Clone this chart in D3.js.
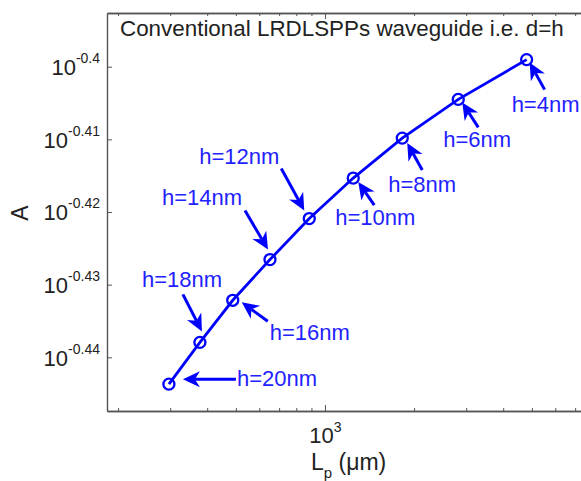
<!doctype html>
<html>
<head>
<meta charset="utf-8">
<title>LRDLSPPs</title>
<script src="https://cdn.jsdelivr.net/npm/d3@7"></script>
<style>
  body { margin: 0; background: #fff; }
  svg { font-family: Arial, "Liberation Sans", Helvetica, sans-serif; }
</style>
</head>
<body>
<div id="chart"></div>
<script>
// data
var hNm = [20, 18, 16, 14, 12, 10, 8, 6, 4];
var Lp  = [297, 378, 488, 652, 885, 1246, 1824, 2820, 4800];      // um
var A   = [0.3600, 0.3648, 0.3697, 0.3745, 0.3794, 0.3843, 0.3892, 0.3940, 0.3990];

var xMinor = [200, 300, 400, 500, 600, 700, 800, 900, 2000, 3000, 4000, 5000, 6000, 7000];
var xMajor = [1000];
var yExp   = [-0.44, -0.43, -0.42, -0.41, -0.4];
var yExpLabels = ["-0.44", "-0.43", "-0.42", "-0.41", "-0.4"];

// callout placement, offsets from the point in px: arrow tail, arrow tip, label
var callouts = [
  { tail: [67, -5],   tip: [14, -5],  txt: [68, 2] },
  { tail: [-17, -48], tip: [2, -11],  txt: [-58, -55] },
  { tail: [35, 21],   tip: [9, 2],    txt: [37, 40] },
  { tail: [-25, -49], tip: [-2, -10], txt: [-108, -55] },
  { tail: [-28, -50], tip: [-5, -8],  txt: [-110, -55] },
  { tail: [21, 27],   tip: [5, 4],    txt: [-18, 47] },
  { tail: [20, 32],   tip: [5, 5],    txt: [-14, 54] },
  { tail: [20, 28],   tip: [4, 3],    txt: [-15, 48] },
  { tail: [18, 30],   tip: [3, 3],    txt: [-15, 52] }
];

var W = 581, H = 481;
var pLeft = 107, pTop = 13, pRight = 590, pBottom = 411;
var blue = "#0000ff", axisCol = "#555";

var svg = d3.select("#chart").append("svg").attr("width", W).attr("height", H);

var x = d3.scaleLog().domain([183.5, 7858]).range([pLeft, pRight]);
var y = d3.scaleLog().domain([Math.pow(10, -0.44739), Math.pow(10, -0.39261)]).range([pBottom, pTop]);

// axes (ticks pointing inward, matlab style)
var axStyle = function(g) {
  g.attr("color", axisCol);
  g.select(".domain").attr("stroke-width", 1.4);
  g.selectAll(".tick line").attr("stroke-width", 1);
};

svg.append("g").attr("transform", "translate(0," + pBottom + ")")
  .call(d3.axisBottom(x).tickValues(xMinor).tickSize(-3).tickSizeOuter(0).tickFormat(""))
  .call(axStyle);
var gxb = svg.append("g").attr("transform", "translate(0," + pBottom + ")")
  .call(d3.axisBottom(x).tickValues(xMajor).tickSize(-6).tickSizeOuter(0).tickFormat(""))
  .call(axStyle);
svg.append("g").attr("transform", "translate(0," + pTop + ")")
  .call(d3.axisTop(x).tickValues(xMinor).tickSize(-3).tickSizeOuter(0).tickFormat(""))
  .call(axStyle);
svg.append("g").attr("transform", "translate(0," + pTop + ")")
  .call(d3.axisTop(x).tickValues(xMajor).tickSize(-6).tickSizeOuter(0).tickFormat(""))
  .call(axStyle);

var gy = svg.append("g").attr("transform", "translate(" + pLeft + ",0)")
  .call(d3.axisLeft(y).tickValues(yExp.map(function(e) { return Math.pow(10, e); }))
    .tickSize(-5).tickSizeOuter(0).tickFormat(""))
  .call(axStyle);

// tick labels with superscripts
gy.selectAll(".tick text").each(function(d, i) {
  var t = d3.select(this).attr("x", -7).attr("dy", "0.36em")
    .attr("font-size", 22).attr("fill", "#222").text(null);
  t.append("tspan").text("10");
  t.append("tspan").attr("dy", -12).attr("font-size", 14).text(yExpLabels[i]);
});
gxb.selectAll(".tick text").each(function() {
  var t = d3.select(this).attr("y", 32).attr("dy", 0)
    .attr("font-size", 22).attr("fill", "#222").text(null);
  t.append("tspan").text("10");
  t.append("tspan").attr("dy", -11).attr("font-size", 14).text("3");
});

// axis titles
var xl = svg.append("text").attr("x", 311).attr("y", 470)
  .attr("font-size", 23).attr("fill", "#222");
xl.append("tspan").text("L");
xl.append("tspan").attr("dy", 8).attr("font-size", 15).text("p");
xl.append("tspan").attr("dy", -8).text(" (\u03bcm)");

svg.append("text").attr("transform", "translate(28,213) rotate(-90)")
  .attr("text-anchor", "middle").attr("font-size", 23).attr("fill", "#222").text("A");

svg.append("text").attr("x", 120).attr("y", 36)
  .attr("font-size", 22.4).attr("fill", "#222")
  .text("Conventional LRDLSPPs waveguide i.e. d=h");

// curve and markers
var pts = Lp.map(function(v, i) { return { L: v, A: A[i], h: hNm[i], c: callouts[i] }; });

svg.append("path").datum(pts)
  .attr("fill", "none").attr("stroke", blue).attr("stroke-width", 2.8)
  .attr("d", d3.line().x(function(d) { return x(d.L); }).y(function(d) { return y(d.A); }));

svg.selectAll("circle.pt").data(pts).enter().append("circle")
  .attr("class", "pt")
  .attr("cx", function(d) { return x(d.L); })
  .attr("cy", function(d) { return y(d.A); })
  .attr("r", 5.5)
  .attr("fill", "none").attr("stroke", blue).attr("stroke-width", 2.3);

// arrows
var headLen = 17, headHalf = 8, notch = 5;
pts.forEach(function(d) {
  var px = x(d.L), py = y(d.A);
  var x0 = px + d.c.tail[0], y0 = py + d.c.tail[1];
  var x1 = px + d.c.tip[0],  y1 = py + d.c.tip[1];
  var dx = x1 - x0, dy = y1 - y0, len = Math.sqrt(dx * dx + dy * dy);
  var ux = dx / len, uy = dy / len, nx = -uy, ny = ux;
  var bx = x1 - ux * headLen, by = y1 - uy * headLen;

  svg.append("line")
    .attr("x1", x0).attr("y1", y0)
    .attr("x2", bx + ux * notch).attr("y2", by + uy * notch)
    .attr("stroke", blue).attr("stroke-width", 3);

  svg.append("path")
    .attr("d", "M" + x1 + "," + y1 +
      "L" + (bx + nx * headHalf) + "," + (by + ny * headHalf) +
      "L" + (bx + ux * notch) + "," + (by + uy * notch) +
      "L" + (bx - nx * headHalf) + "," + (by - ny * headHalf) + "Z")
    .attr("fill", blue);

  svg.append("text")
    .attr("x", px + d.c.txt[0]).attr("y", py + d.c.txt[1])
    .attr("font-size", 22).attr("fill", "#2222ff")
    .text("h=" + d.h + "nm");
});
</script>
</body>
</html>
